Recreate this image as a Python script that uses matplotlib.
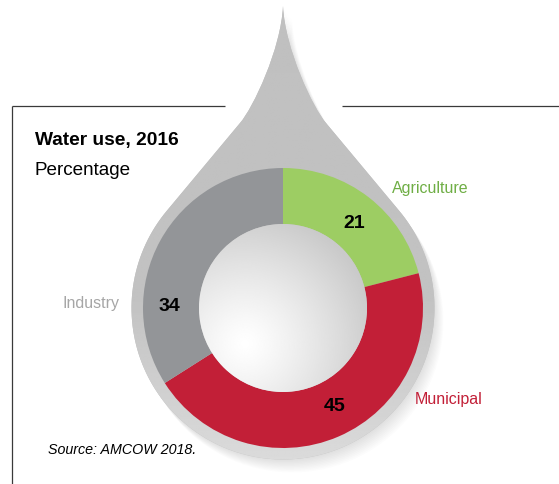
import matplotlib
matplotlib.use("Agg")
import matplotlib.pyplot as plt
import numpy as np
from matplotlib.patches import Circle, PathPatch
from matplotlib.path import Path

W, H = 559, 485

# data
sectors = ["Agriculture", "Municipal", "Industry"]
shares = [21, 45, 34]
sector_colors = ["#9dcd63", "#c21f37", "#939598"]
label_colors = ["#6fae45", "#c21f37", "#a6a6a6"]

title = "Water use, 2016"
subtitle = "Percentage"
source = "Source: AMCOW 2018."

# layout (pixel coords, y down)
CX, CY = 283, 309
R_OUT, R_IN, R_DROP = 140, 84, 151.5
name_pos = [(392, 193, "left"), (415, 404, "left"), (120, 308, "right")]
value_pos = [(354, 228), (335, 411), (169, 311)]

plt.rcParams["font.family"] = ["Liberation Sans", "DejaVu Sans"]


def drop_path(cx, cy, r, tip_y):
    # water drop: circle with a concave point on top
    a = np.radians(50)
    lx, ly = cx - r * np.sin(a), cy - r * np.cos(a)
    verts = [(cx, tip_y), (cx - 2, 50), (cx - 30, 109), (cx - 43, 124), (lx, ly)]
    codes = [Path.MOVETO, Path.CURVE4, Path.CURVE4, Path.CURVE4, Path.LINETO]
    for t in np.radians(np.linspace(-50, -310, 140))[1:]:
        verts.append((cx + r * np.sin(t), cy - r * np.cos(t)))
        codes.append(Path.LINETO)
    verts += [(cx + 43, 124), (cx + 30, 109), (cx + 2, 50), (cx, tip_y), (cx, tip_y)]
    codes += [Path.LINETO, Path.CURVE4, Path.CURVE4, Path.CURVE4, Path.CLOSEPOLY]
    return Path(verts, codes)


fig = plt.figure(figsize=(W / 100, H / 100), dpi=100)
ax = fig.add_axes([0, 0, 1, 1])

drop = drop_path(CX, CY, R_DROP, 7)

# soft shadow to the lower right
for k in range(1, 11):
    sh = drop.transformed(matplotlib.transforms.Affine2D().translate(k * 0.9, k * 1.3))
    ax.add_patch(PathPatch(sh, facecolor="black", edgecolor="none", alpha=0.012, zorder=1))

drop_patch = PathPatch(drop, facecolor="#c0c0c0", edgecolor="none", zorder=2)
ax.add_patch(drop_patch)
ys = np.linspace(0, H, 300)
shade = np.interp(ys, [0, 300, 465], [0.752, 0.76, 0.86])
img = ax.imshow(np.tile(shade[:, None], (1, 10)), cmap="gray", vmin=0, vmax=1,
                extent=(CX - R_DROP - 2, CX + R_DROP + 2, 0, H), origin="lower",
                interpolation="bilinear", zorder=2.5)
img.set_clip_path(drop_patch)

wedges, _ = ax.pie(shares, colors=sector_colors, startangle=-90, counterclock=True,
                   center=(CX, CY), radius=R_OUT,
                   wedgeprops=dict(width=R_OUT - R_IN, linewidth=0))
for w in wedges:
    w.set_zorder(3)

# shaded hole
hx = np.linspace(CX - R_IN, CX + R_IN, 300)
hy = np.linspace(CY - R_IN, CY + R_IN, 300)
gx, gy = np.meshgrid(hx, hy)
d = np.hypot(gx - (CX - 38), gy - (CY + 36)) / (1.6 * R_IN)
hole = 1 - 0.21 * np.clip(d, 0, 1) ** 1.2
him = ax.imshow(hole, cmap="gray", vmin=0, vmax=1,
                extent=(hx[0], hx[-1], hy[0], hy[-1]), origin="lower",
                interpolation="bilinear", zorder=4)
him.set_clip_path(Circle((CX, CY), R_IN, transform=ax.transData))

for name, col, (x, y, ha) in zip(sectors, label_colors, name_pos):
    ax.text(x, y, name, color=col, fontsize=11.5, ha=ha, va="baseline", zorder=5)
for v, (x, y) in zip(shares, value_pos):
    ax.text(x, y, str(v), fontsize=14, fontweight="bold", ha="center", va="baseline", zorder=5)

ax.text(35, 145, title, fontsize=13.8, fontweight="bold", va="baseline")
ax.text(35, 175, subtitle, fontsize=13.6, va="baseline")
ax.text(48, 454, source, fontsize=10.3, style="italic", va="baseline")

# frame
for xs_, ys_ in [([12, 12], [107, H]), ([12, 225], [107, 107]), ([342, W], [107, 107])]:
    ax.plot(xs_, ys_, color="#3a3a3a", lw=0.9, solid_capstyle="butt", zorder=1)

ax.set_xlim(0, W)
ax.set_ylim(H, 0)
ax.set_aspect("auto")
ax.axis("off")
fig.savefig("out.png", dpi=100)
